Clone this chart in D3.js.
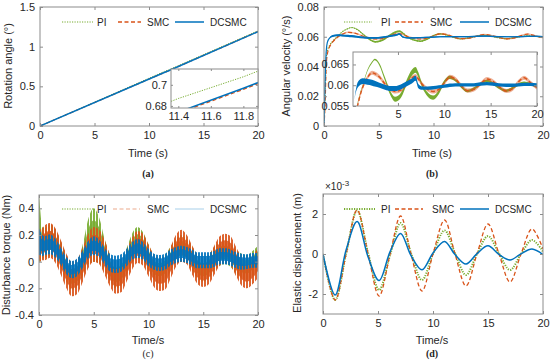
<!DOCTYPE html>
<html>
<head>
<meta charset="utf-8">
<script src="https://cdn.jsdelivr.net/npm/d3@7/dist/d3.min.js"></script>
<style>
  body { margin: 0; background: #fff; }
  svg { font-family: "Liberation Sans", Arial, sans-serif; }
</style>
</head>
<body>
<svg id="chart" width="550" height="363"></svg>
<script>
// ---- data ----
var names = ['PI', 'SMC', 'DCSMC']

// (a) rotation angle (deg)
var timeA = [0, 11.4, 11.8, 20]
var anglePI = [0, 0.687, 0.7076, 1.2]
var angleSMC = [0, 0.6732, 0.6957, 1.19]
var angleDCSMC = [0, 0.6741, 0.6967, 1.19]

// (b) angular velocity (deg/s): centre value and noise half width
var timeB = [0, 0.1, 0.2, 0.3, 0.5, 0.8, 1.2, 1.7, 2.2, 2.5, 3.0, 3.6, 4.2, 4.7, 5.3, 5.9, 6.5, 6.9, 7.2, 7.6,
  8.2, 8.8, 9.4, 10.0, 10.6, 11.2, 11.8, 12.5, 13.2, 13.9, 14.6, 15.2, 15.9, 16.7, 17.4, 18.0, 18.6, 19.3, 20]
var velPI = [0, 0.02, 0.045, 0.05, 0.054, 0.057, 0.06, 0.0635, 0.0655, 0.0662, 0.065, 0.0615, 0.058, 0.0566, 0.0575, 0.0605, 0.063, 0.0637, 0.0625, 0.06,
  0.0578, 0.057, 0.0583, 0.0608, 0.0619, 0.0612, 0.0597, 0.0586, 0.0592, 0.0603, 0.061, 0.0605, 0.0594, 0.0587, 0.0594, 0.0602, 0.0606, 0.0603, 0.0597]
var velPINoise = [0, 0, 0, 0, 0.0001, 0.0002, 0.0002, 0.0002, 0.0002, 0.0002, 0.0003, 0.0004, 0.0005, 0.0006, 0.0006, 0.0006, 0.0007, 0.0007, 0.0006, 0.0005,
  0.0005, 0.0005, 0.0005, 0.0004, 0.0004, 0.0003, 0.0003, 0.0003, 0.0003, 0.0003, 0.0003, 0.0003, 0.0003, 0.0003, 0.0003, 0.0003, 0.0003, 0.0003, 0.0003]
var velSMC = [0, 0.015, 0.04, 0.048, 0.053, 0.0565, 0.0595, 0.0618, 0.063, 0.0628, 0.062, 0.0603, 0.059, 0.0585, 0.0588, 0.0602, 0.0618, 0.0622, 0.0615, 0.0603,
  0.059, 0.0585, 0.059, 0.0605, 0.062, 0.0615, 0.06, 0.0587, 0.059, 0.0603, 0.0615, 0.061, 0.0597, 0.0586, 0.0592, 0.0608, 0.0618, 0.0606, 0.0594]
var velSMCNoise = [0, 0, 0, 0, 0.0002, 0.0004, 0.0005, 0.0005, 0.0005, 0.0005, 0.0005, 0.0005, 0.0005, 0.0005, 0.0005, 0.0005, 0.0005, 0.0005, 0.0005, 0.0005,
  0.0005, 0.0005, 0.0005, 0.0005, 0.0005, 0.0005, 0.0005, 0.0005, 0.0005, 0.0005, 0.0005, 0.0005, 0.0005, 0.0005, 0.0005, 0.0005, 0.0005, 0.0005, 0.0005]
var velDCSMC = [0, 0.03, 0.05, 0.056, 0.059, 0.0605, 0.061, 0.0608, 0.0606, 0.0604, 0.06, 0.0595, 0.0592, 0.0592, 0.0596, 0.0603, 0.061, 0.0617, 0.0598, 0.0593,
  0.0593, 0.0594, 0.0596, 0.0598, 0.06, 0.0601, 0.0601, 0.0601, 0.0601, 0.0603, 0.0604, 0.0603, 0.0601, 0.06, 0.06, 0.0601, 0.0602, 0.0602, 0.0601]
var velDCSMCNoise = [0, 0, 0, 0, 0.0004, 0.0007, 0.0007, 0.0007, 0.0007, 0.0007, 0.0006, 0.0006, 0.0006, 0.0006, 0.0006, 0.0006, 0.0006, 0.0006, 0.0005, 0.0004,
  0.0004, 0.0004, 0.0004, 0.0004, 0.0004, 0.0004, 0.0004, 0.0004, 0.0004, 0.0004, 0.0004, 0.0004, 0.0004, 0.0004, 0.0004, 0.0004, 0.0004, 0.0004, 0.0004]

// (c) disturbance torque (Nm): centre value and noise half width
var timeC = [0, 0.1, 0.3, 0.5, 1, 1.5, 2, 2.5, 3, 3.5, 4, 4.5, 5, 5.5, 6, 6.5, 7, 7.5, 8, 8.5, 9, 9.5,
  10, 10.5, 11, 11.5, 12, 12.5, 13, 13.5, 14, 14.5, 15, 15.5, 16, 16.5, 17, 17.5, 18, 18.5, 19, 19.5, 20]
var torPI = [0.25, 0.2, 0.14, 0.14, 0.16, 0.13, 0.05, -0.05, -0.11, -0.09, 0.01, 0.15, 0.2, 0.16, 0.05, -0.05, -0.1, -0.08, 0.0, 0.1, 0.14, 0.11,
  0.03, -0.04, -0.06, -0.04, 0.02, 0.08, 0.1, 0.08, 0.02, -0.04, -0.06, -0.04, 0.02, 0.06, 0.07, 0.05, 0.0, -0.03, -0.04, -0.01, 0.03]
var torPINoise = [0.25, 0.2, 0.12, 0.11, 0.12, 0.11, 0.1, 0.1, 0.1, 0.1, 0.12, 0.17, 0.2, 0.17, 0.12, 0.1, 0.1, 0.1, 0.1, 0.11, 0.12, 0.11,
  0.1, 0.09, 0.09, 0.09, 0.09, 0.09, 0.1, 0.09, 0.09, 0.09, 0.09, 0.09, 0.09, 0.09, 0.09, 0.09, 0.09, 0.09, 0.09, 0.09, 0.09]
var torSMC = [0.1, 0.12, 0.13, 0.14, 0.16, 0.12, 0.03, -0.07, -0.13, -0.11, -0.02, 0.08, 0.13, 0.11, 0.03, -0.07, -0.12, -0.11, -0.03, 0.06, 0.11, 0.09,
  0.01, -0.07, -0.1, -0.09, -0.01, 0.08, 0.12, 0.09, 0.01, -0.06, -0.08, -0.06, 0.01, 0.08, 0.1, 0.08, 0.0, -0.07, -0.09, -0.06, -0.01]
var torSMCNoise = [0.08, 0.12, 0.12, 0.13, 0.13, 0.13, 0.13, 0.13, 0.13, 0.13, 0.13, 0.13, 0.13, 0.13, 0.13, 0.12, 0.12, 0.12, 0.12, 0.12, 0.12, 0.12,
  0.12, 0.12, 0.12, 0.12, 0.12, 0.12, 0.12, 0.11, 0.11, 0.11, 0.11, 0.11, 0.11, 0.11, 0.11, 0.11, 0.11, 0.11, 0.11, 0.11, 0.11]
var torDCSMC = [0.15, 0.14, 0.12, 0.12, 0.13, 0.1, 0.04, -0.03, -0.06, -0.04, 0.02, 0.09, 0.12, 0.1, 0.04, -0.01, -0.02, -0.01, 0.03, 0.08, 0.1, 0.08,
  0.03, 0.0, -0.01, 0.0, 0.03, 0.05, 0.06, 0.05, 0.03, 0.01, 0.01, 0.01, 0.02, 0.04, 0.04, 0.03, 0.01, 0.0, 0.0, 0.01, 0.01]
var torDCSMCNoise = [0.1, 0.09, 0.08, 0.07, 0.075, 0.07, 0.065, 0.065, 0.065, 0.065, 0.065, 0.065, 0.07, 0.065, 0.065, 0.065, 0.065, 0.065, 0.065, 0.065, 0.07, 0.065,
  0.065, 0.06, 0.06, 0.06, 0.06, 0.06, 0.06, 0.06, 0.06, 0.06, 0.06, 0.06, 0.06, 0.06, 0.06, 0.06, 0.06, 0.06, 0.055, 0.055, 0.055]

// (d) elastic displacement (x 1e-3 m)
var timeD = [0, 1.1, 2.1, 3.1, 4.1, 5.1, 6.1, 7.05, 8.0, 9.0, 10.0, 11.05, 12.0, 13.0, 14.0, 15.0, 16.0, 17.0, 18.0, 19.0, 20]
var dispPI = [0, -2.3, 0.0, 2.18, 0.05, -1.8, -0.05, 1.55, 0.05, -1.3, 0.0, 1.18, 0.05, -1.05, 0.0, 0.9, 0.03, -0.8, 0.0, 0.7, 0.12]
var dispSMC = [0, -2.3, 0.0, 2.2, 0.0, -2.1, 0.0, 1.9, 0.0, -1.85, 0.0, 1.7, 0.0, -1.6, 0.0, 1.5, 0.0, -1.4, 0.0, 1.25, 0.25]
var dispDCSMC = [0, -2.05, 0.2, 1.62, -0.15, -1.33, 0.12, 1.03, -0.08, -0.79, 0.05, 0.63, -0.03, -0.5, 0.02, 0.41, -0.02, -0.3, 0.01, 0.25, -0.03]

// ---- styles ----
var color = { PI: '#77AC30', SMC: '#D95319', DCSMC: '#0072BD' }
var dash = { PI: '1.2,1.3', SMC: '4,2.5', DCSMC: null }
var axisColor = '#8c8c8c'
var textColor = '#262626'
var fontSans = '"Liberation Sans", Arial, sans-serif'

var svg = d3.select('#chart')
var defs = svg.append('defs')
var clipN = 0
var fmt = function (d) { return String(d) }

// vertical stripe fill to mimic the dense noise of panel (c)
names.forEach(function (nm) {
  var p = defs.append('pattern').attr('id', 'stripe' + nm).attr('patternUnits', 'userSpaceOnUse')
    .attr('width', 3).attr('height', 4)
  p.append('rect').attr('width', 2).attr('height', 4).attr('fill', color[nm])
})

function makeAxes (o) {
  var x = d3.scaleLinear().domain(o.xd).range([o.l, o.r])
  var y = d3.scaleLinear().domain(o.yd).range([o.b, o.t])
  var g = svg.append('g')
  g.append('rect').attr('x', o.l).attr('y', o.t).attr('width', o.r - o.l).attr('height', o.b - o.t).attr('fill', '#fff')
  var id = 'clip' + (clipN++)
  g.append('clipPath').attr('id', id).append('rect')
    .attr('x', o.l).attr('y', o.t).attr('width', o.r - o.l).attr('height', o.b - o.t)
  var plot = g.append('g').attr('clip-path', 'url(#' + id + ')')
  var ax = g.append('g')
  var tk = o.tick || 3
  ax.append('g').attr('transform', 'translate(0,' + o.b + ')')
    .call(d3.axisBottom(x).tickValues(o.xt).tickSize(-tk).tickPadding(o.pad || 5).tickFormat(fmt))
  ax.append('g').attr('transform', 'translate(' + o.l + ',0)')
    .call(d3.axisLeft(y).tickValues(o.yt).tickSize(-tk).tickPadding(o.pad || 5).tickFormat(fmt))
  ax.append('g').attr('transform', 'translate(0,' + o.t + ')')
    .call(d3.axisTop(x).tickValues(o.xt).tickSize(-tk).tickFormat(''))
  ax.append('g').attr('transform', 'translate(' + o.r + ',0)')
    .call(d3.axisRight(y).tickValues(o.yt).tickSize(-tk).tickFormat(''))
  ax.selectAll('.domain').remove()
  ax.selectAll('line').attr('stroke', axisColor)
  ax.selectAll('text').attr('fill', textColor)
    .style('font-family', fontSans).style('font-size', (o.fs || 11) + 'px')
  g.append('rect').attr('x', o.l).attr('y', o.t).attr('width', o.r - o.l).attr('height', o.b - o.t)
    .attr('fill', 'none').attr('stroke', axisColor).attr('stroke-width', 1)
  return { x: x, y: y, g: g, plot: plot }
}

function drawLine (a, t, v, name, w, curve) {
  var line = d3.line().x(function (d, i) { return a.x(t[i]) }).y(function (d) { return a.y(d) })
    .curve(curve || d3.curveLinear)
  a.plot.append('path').attr('d', line(v)).attr('fill', 'none')
    .attr('stroke', color[name]).attr('stroke-width', w).attr('stroke-dasharray', dash[name])
}

function drawBand (a, t, v, n, name, op, k, fill) {
  var s = k || 1
  var area = d3.area().x(function (d, i) { return a.x(t[i]) })
    .y0(function (d, i) { return a.y(d - n[i] * s) }).y1(function (d, i) { return a.y(d + n[i] * s) })
    .curve(d3.curveMonotoneX)
  a.plot.append('path').attr('d', area(v)).attr('fill', fill || color[name]).attr('fill-opacity', op)
}

function legend (g, y, items, w, op) {
  items.forEach(function (it) {
    g.append('line').attr('x1', it[1]).attr('x2', it[2]).attr('y1', y).attr('y2', y)
      .attr('stroke', color[it[0]]).attr('stroke-width', w[it[0]]).attr('stroke-dasharray', dash[it[0]])
      .attr('stroke-opacity', op ? op[it[0]] : 1)
    g.append('text').attr('x', it[3]).attr('y', y).attr('dy', '0.35em').attr('fill', textColor)
      .style('font-size', '10px').text(it[0])
  })
}

function label (x, y, txt, opt) {
  var t = svg.append('text').attr('x', x).attr('y', y).attr('text-anchor', 'middle')
    .attr('fill', textColor).style('font-size', (opt.fs || 11) + 'px').text(txt)
  if (opt.rot) t.attr('transform', 'rotate(-90,' + x + ',' + y + ')')
  if (opt.font) t.style('font-family', opt.font)
  if (opt.bold) t.style('font-weight', 'bold')
  return t
}

// ---- (a) ----
var A = makeAxes({ l: 40, r: 258, t: 7, b: 126, xd: [0, 20], yd: [0, 1.5], xt: [0, 5, 10, 15, 20], yt: [0, 0.5, 1, 1.5] })
drawLine(A, timeA, anglePI, 'PI', 1)
drawLine(A, timeA, angleSMC, 'SMC', 1.2)
drawLine(A, timeA, angleDCSMC, 'DCSMC', 1.5)
legend(A.g, 22, [['PI', 62, 93, 97], ['SMC', 118, 141, 147], ['DCSMC', 175, 204, 210]], { PI: 1.2, SMC: 1.5, DCSMC: 1.5 })
var Ai = makeAxes({ l: 171, r: 258, t: 69, b: 108, xd: [11.355, 11.89], yd: [0.678, 0.715], xt: [11.4, 11.6, 11.8], yt: [0.68, 0.7], tick: 2, pad: 4 })
drawLine(Ai, timeA, anglePI, 'PI', 1)
drawLine(Ai, timeA, angleSMC, 'SMC', 1.3)
drawLine(Ai, timeA, angleDCSMC, 'DCSMC', 1.5)
label(148, 157, 'Time (s)', {})
label(12, 66, 'Rotation angle (\u00b0)', { rot: true })
label(148, 177, '(a)', { font: '"Liberation Serif", serif', bold: true, fs: 10 })

// ---- (b) ----
var B = makeAxes({ l: 324, r: 543, t: 7, b: 126, xd: [0, 20], yd: [0, 0.08], xt: [0, 5, 10, 15, 20], yt: [0, 0.02, 0.04, 0.06, 0.08] })
var velSeries = { PI: [velPI, velPINoise], SMC: [velSMC, velSMCNoise], DCSMC: [velDCSMC, velDCSMCNoise] }
names.forEach(function (nm) {
  drawBand(B, timeB, velSeries[nm][0], velSeries[nm][1], nm, nm === 'SMC' ? 0.4 : 1)
  drawLine(B, timeB, velSeries[nm][0], nm, 1.2, d3.curveMonotoneX)
})
legend(B.g, 22, [['PI', 344, 372, 381], ['SMC', 395, 423, 430], ['DCSMC', 460, 489, 495]], { PI: 1.2, SMC: 1.5, DCSMC: 1.5 })
var Bi = makeAxes({ l: 353, r: 537, t: 52, b: 106, xd: [0.15, 20], yd: [0.055, 0.068], xt: [5, 10, 15, 20], yt: [0.055, 0.06, 0.065], tick: 3, pad: 4 })
names.forEach(function (nm) {
  drawBand(Bi, timeB, velSeries[nm][0], velSeries[nm][1], nm, nm === 'SMC' ? 0.45 : 1)
  if (nm === 'SMC') drawLine(Bi, timeB, velSeries[nm][0], nm, 1.4, d3.curveMonotoneX)
})
label(432, 157, 'Time (s)', {})
label(290, 66, 'Angular velocity (\u00b0/s)', { rot: true })
label(432, 177, '(b)', { font: '"Liberation Serif", serif', bold: true, fs: 10 })

// ---- (c) ----
var C = makeAxes({ l: 39, r: 258, t: 195, b: 315, xd: [0, 20], yd: [-0.4, 0.5], xt: [0, 5, 10, 15, 20], yt: [-0.4, -0.2, 0, 0.2, 0.4] })
var torSeries = { PI: [torPI, torPINoise], SMC: [torSMC, torSMCNoise], DCSMC: [torDCSMC, torDCSMCNoise] }
names.forEach(function (nm) {
  drawBand(C, timeC, torSeries[nm][0], torSeries[nm][1], nm, 0.9, 1, 'url(#stripe' + nm + ')')
  drawBand(C, timeC, torSeries[nm][0], torSeries[nm][1], nm, 0.85, 0.55)
})
legend(C.g, 209, [['PI', 62, 93, 97], ['SMC', 113, 140, 147], ['DCSMC', 175, 204, 210]], { PI: 1.2, SMC: 1, DCSMC: 1 }, { PI: 1, SMC: 0.5, DCSMC: 0.35 })
label(148, 344, 'Time/s', {})
label(10, 255, 'Disturbance torque (Nm)', { rot: true })
label(148, 357, '(c)', { font: '"Liberation Serif", serif', fs: 10 })

// ---- (d) ----
var D = makeAxes({ l: 323, r: 543, t: 194, b: 314, xd: [0, 20], yd: [-3, 3], xt: [0, 5, 10, 15, 20], yt: [-2, 0, 2] })
drawLine(D, timeD, dispPI, 'PI', 2, d3.curveCatmullRom)
drawLine(D, timeD, dispSMC, 'SMC', 1.3, d3.curveCatmullRom)
drawLine(D, timeD, dispDCSMC, 'DCSMC', 1.5, d3.curveCatmullRom)
legend(D.g, 209, [['PI', 344, 375, 381], ['SMC', 395, 423, 432], ['DCSMC', 460, 489, 495]], { PI: 2, SMC: 1.4, DCSMC: 1.5 })
var ex = svg.append('text').attr('x', 325).attr('y', 190).attr('fill', textColor).style('font-size', '10px')
ex.append('tspan').text('\u00d710')
ex.append('tspan').attr('dy', -4).style('font-size', '8px').text('-3')
label(432, 344, 'Time/s', {})
label(301, 253, 'Elastic displacement (m)', { rot: true })
label(432, 357, '(d)', { font: '"Liberation Serif", serif', bold: true, fs: 10 })
</script>
</body>
</html>
